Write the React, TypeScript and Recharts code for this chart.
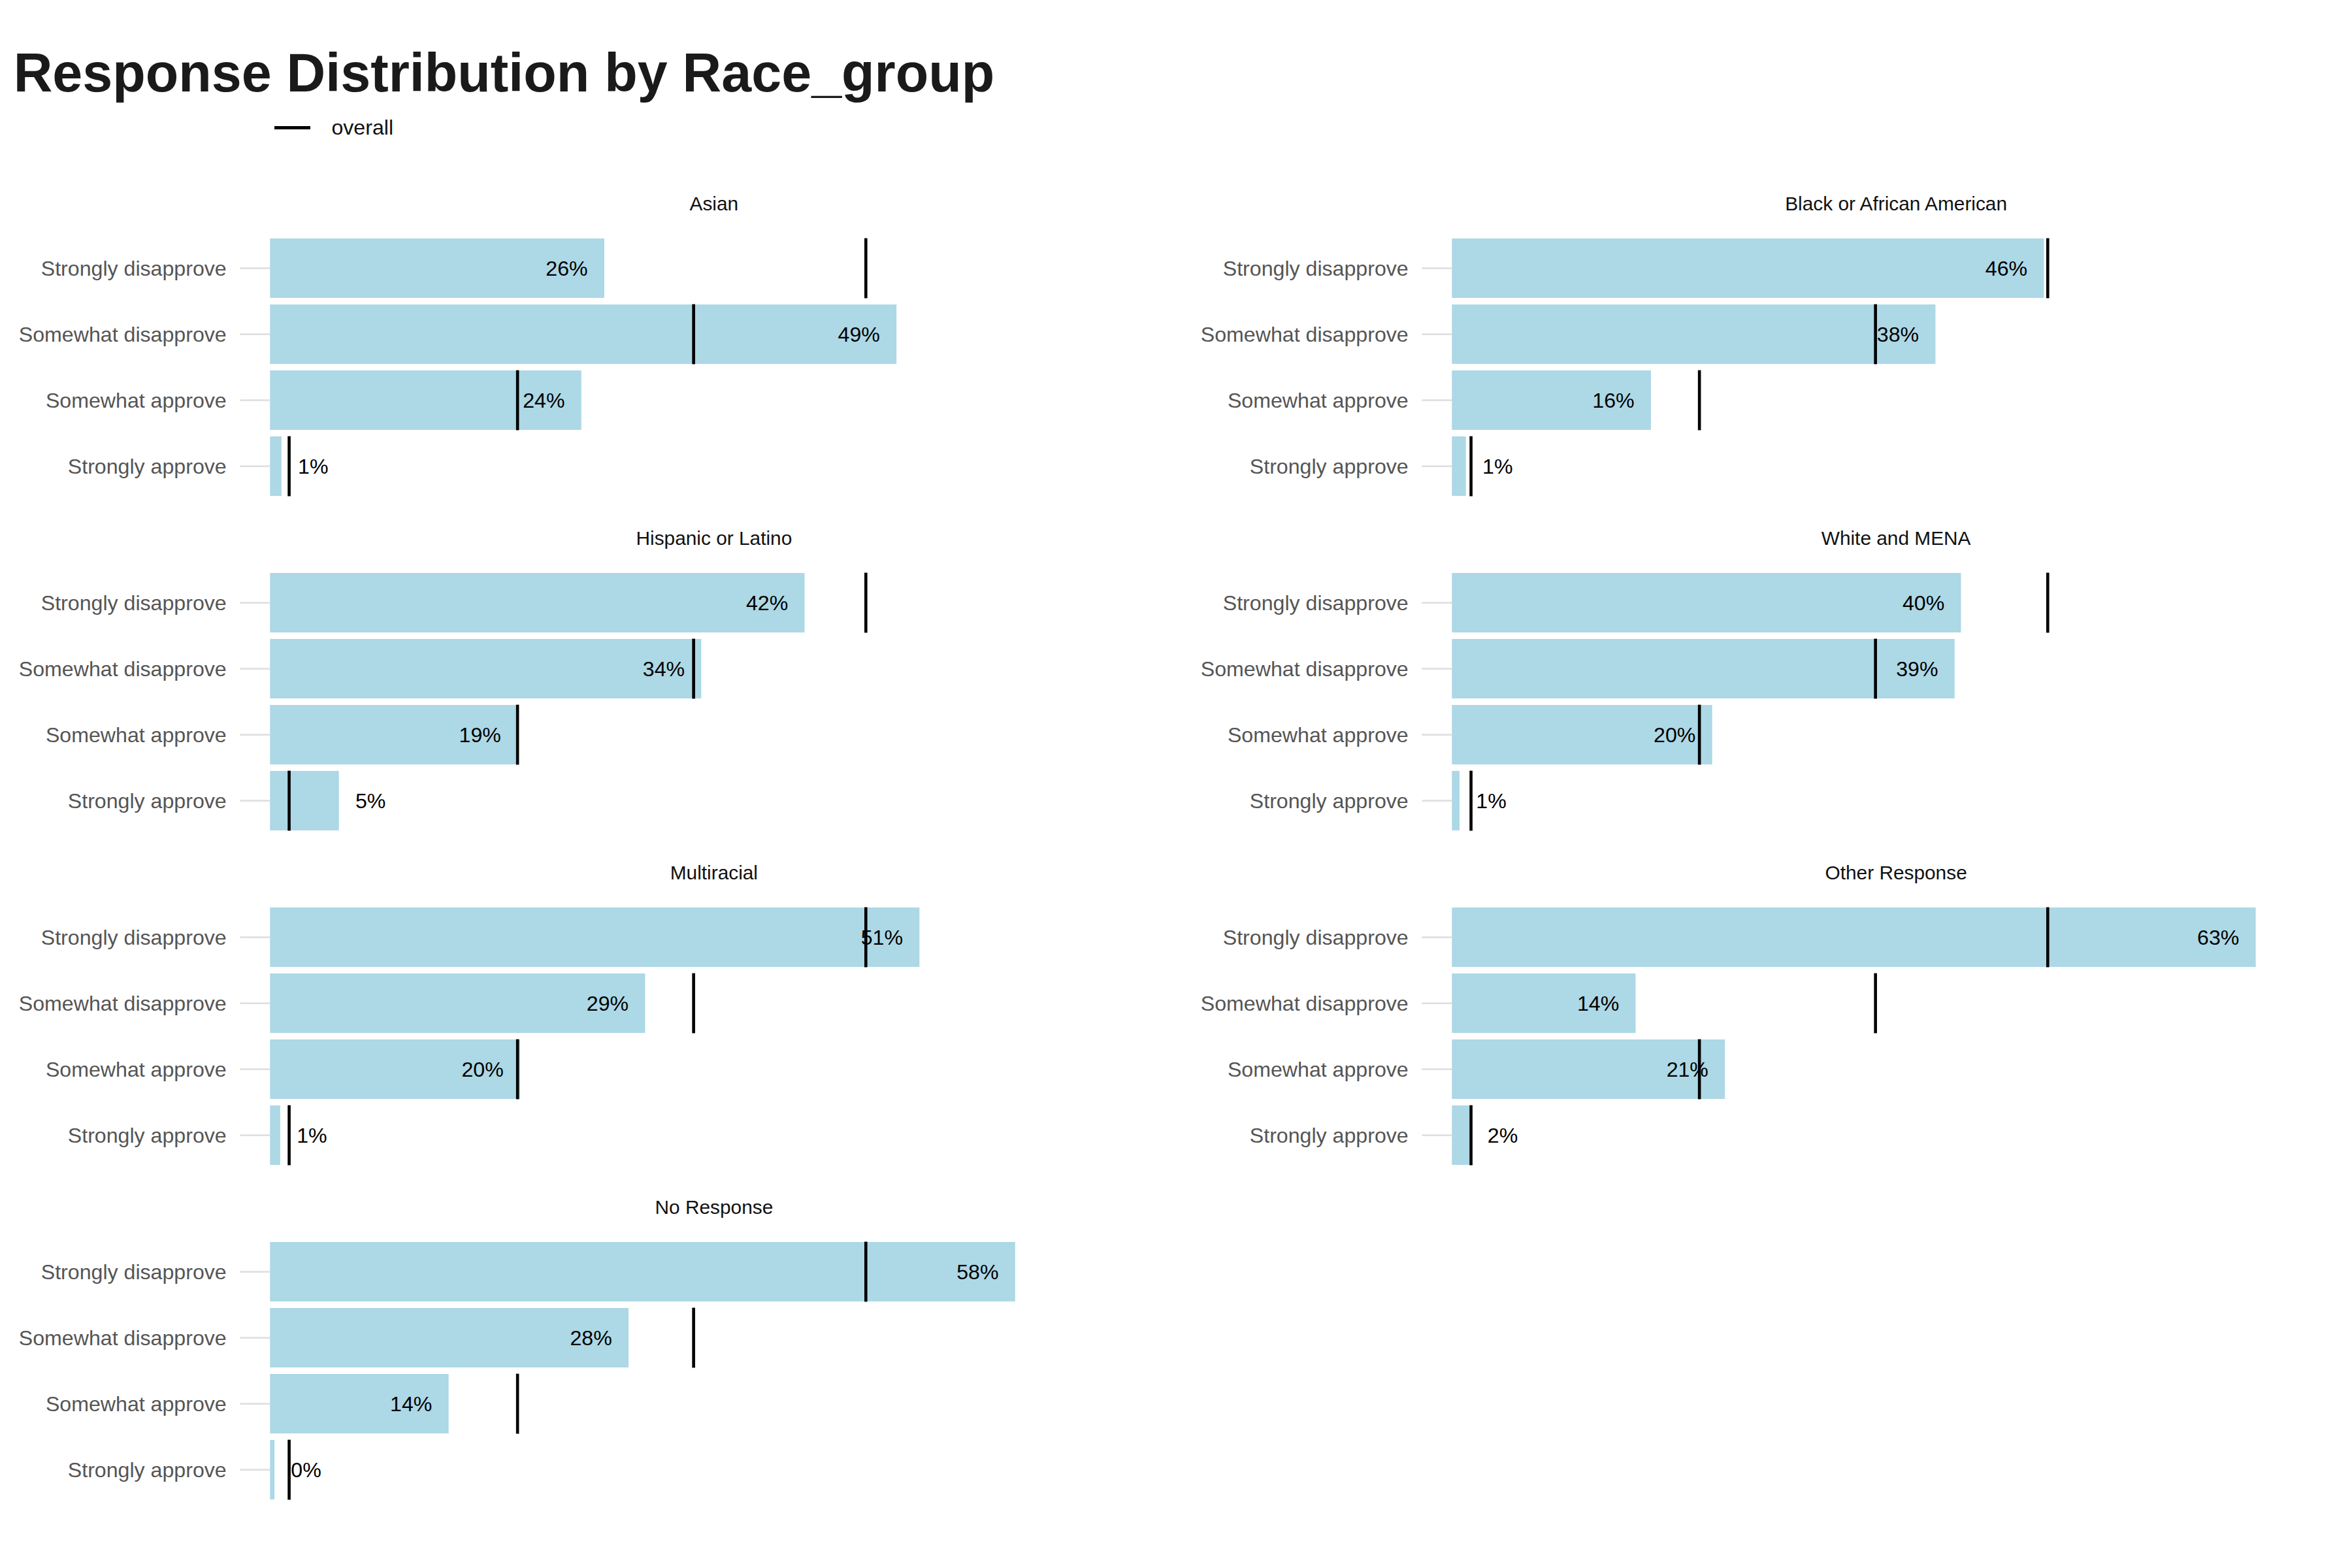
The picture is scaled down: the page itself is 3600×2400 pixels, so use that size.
import React from "react";
import { ComposedChart, Bar, Line, XAxis, YAxis, LabelList } from "recharts";

const responses = ["Strongly disapprove", "Somewhat disapprove", "Somewhat approve", "Strongly approve"];
const overall = [46.7, 33.2, 19.4, 1.5];
const panels = [
  { name: "Asian", values: [26.2, 49.1, 24.4, 0.9] },
  { name: "Black or African American", values: [46.4, 37.9, 15.6, 1.1] },
  { name: "Hispanic or Latino", values: [41.9, 33.8, 19.4, 5.4] },
  { name: "White and MENA", values: [39.9, 39.4, 20.4, 0.6] },
  { name: "Multiracial", values: [50.9, 29.4, 19.6, 0.8] },
  { name: "Other Response", values: [63.0, 14.4, 21.4, 1.5] },
  { name: "No Response", values: [58.4, 28.1, 14.0, 0.35] },
];

const S = 2.296;
const PLOT_LEFT = 180 * S;
const PLOT_W = 592 * S;
const PLOT_H = 176 * S;
const ROW = 223 * S;
const COL = 788 * S;

const Marker = (props: any) => {
  const { cx, cy } = props;
  if (cx == null || cy == null) return null;
  const h = 40 * S;
  return <line x1={cx} x2={cx} y1={cy - h / 2} y2={cy + h / 2} stroke="#000" strokeWidth={2 * S} />;
};

const ValueLabel = (props: any) => {
  const { x, y, width, height, value } = props;
  const big = value >= 8;
  const tx = big ? x + width - 11 * S : x + width + 11 * S;
  return (
    <text x={tx} y={y + height / 2} dy="0.35em" textAnchor={big ? "end" : "start"} fontSize={14 * S} fill="#000">
      {Math.round(value)}%
    </text>
  );
};

const Panel = ({ p, i }: { p: any; i: number }) => {
  const col = i % 2;
  const row = Math.floor(i / 2);
  const data = responses.map((r, k) => ({ r, value: p.values[k], overall: overall[k] }));
  const left = col * COL;
  const top = 157 * S + row * ROW;
  return (
    <>
      <div style={{ position: "absolute", left: left + PLOT_LEFT, width: PLOT_W, top: top - 31 * S, textAlign: "center", fontSize: 13 * S, color: "#111", lineHeight: `${20 * S}px` }}>
        {p.name}
      </div>
      <div style={{ position: "absolute", left, top }}>
        <ComposedChart layout="vertical" width={PLOT_LEFT + PLOT_W} height={PLOT_H} data={data} margin={{ top: 0, right: 0, bottom: 0, left: 0 }} barCategoryGap="5%">
          <XAxis type="number" hide domain={[0, 69.6]} />
          <YAxis type="category" dataKey="r" width={PLOT_LEFT} axisLine={false} tickSize={20 * S} tickMargin={9 * S} tickLine={{ stroke: "#e0e0e0", strokeWidth: 1.2 * S }} tick={{ fontSize: 14 * S, fill: "#555" }} />
          <Bar dataKey="value" fill="#add8e6" isAnimationActive={false}>
            <LabelList dataKey="value" content={ValueLabel} />
          </Bar>
          <Line dataKey="overall" stroke="none" dot={Marker} activeDot={false} isAnimationActive={false} />
        </ComposedChart>
      </div>
    </>
  );
}

export default function App() {
  return (
    <div style={{ position: "relative", margin: -8, width: 3600, height: 2400, background: "#fff", fontFamily: "'Liberation Sans', Arial, sans-serif" }}>
      <div style={{ position: "absolute", left: 9 * S, top: 31 * S, fontSize: 36 * S, fontWeight: "bold", color: "#1a1a1a", lineHeight: 1 }}>
        Response Distribution by Race_group
      </div>
      <div style={{ position: "absolute", left: 183 * S, top: 77 * S, display: "flex", alignItems: "center", fontSize: 14 * S, color: "#111" }}>
        <div style={{ width: 24 * S, height: 2 * S, background: "#000", marginRight: 14 * S }} />
        overall
      </div>
      {panels.map((p, i) => <Panel key={p.name} p={p} i={i} />)}
    </div>
  );
}
